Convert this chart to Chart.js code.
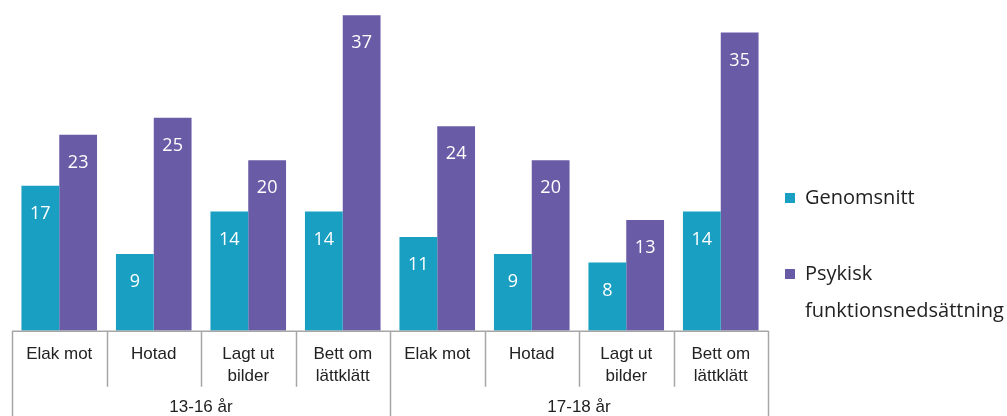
<!DOCTYPE html>
<html>
<head>
<meta charset="utf-8">
<script src="https://cdn.jsdelivr.net/npm/chart.js@4/dist/chart.umd.min.js"></script>
<style>
  body { margin: 0; background: #fff; }
  #wrap { width: 1007px; height: 416px; position: relative; }
</style>
</head>
<body>
<div id="wrap"><canvas id="chart"></canvas></div>
<script>
// Data
const categories = [
  "Elak mot", "Hotad", ["Lagt ut", "bilder"], ["Bett om", "lättklätt"],
  "Elak mot", "Hotad", ["Lagt ut", "bilder"], ["Bett om", "lättklätt"]
];
const groups = ["13-16 år", "17-18 år"];
const genomsnitt = [17, 9, 14, 14, 11, 9, 8, 14];
const psykisk = [23, 25, 20, 37, 24, 20, 13, 35];
const seriesNames = ["Genomsnitt", ["Psykisk", "funktionsnedsättning"]];

const cyan = "#189FC2";
const purple = "#6A5BA7";
const lineGray = "#A6A6A6";

// Linjer som ritar "tabellen" under x-axeln
const tableLines = {
  id: "tableLines",
  afterDraw(chart) {
    const ctx = chart.ctx;
    const x = chart.scales.x;
    const area = chart.chartArea;
    const n = categories.length;
    const half = (x.getPixelForValue(1) - x.getPixelForValue(0)) / 2;
    ctx.save();
    ctx.strokeStyle = lineGray;
    ctx.lineWidth = 1.5;
    ctx.beginPath();
    ctx.moveTo(x.getPixelForValue(0) - half, area.bottom + 0.5);
    ctx.lineTo(x.getPixelForValue(n - 1) + half, area.bottom + 0.5);
    for (let i = 0; i <= n; i++) {
      const bx = i < n ? x.getPixelForValue(i) - half : x.getPixelForValue(n - 1) + half;
      const end = i % 4 === 0 ? chart.height : area.bottom + 56;
      ctx.moveTo(Math.round(bx) + 0.5, area.bottom);
      ctx.lineTo(Math.round(bx) + 0.5, end);
    }
    ctx.stroke();
    ctx.restore();
  }
};

// Värden inne i staplarna
const barValues = {
  id: "barValues",
  afterDatasetsDraw(chart) {
    const ctx = chart.ctx;
    ctx.save();
    ctx.fillStyle = "#ffffff";
    ctx.font = "18px 'Open Sans'";
    ctx.textAlign = "center";
    ctx.textBaseline = "middle";
    chart.data.datasets.forEach((ds, di) => {
      chart.getDatasetMeta(di).data.forEach((bar, i) => {
        ctx.fillText(String(ds.data[i]), bar.x, bar.y + 28);
      });
    });
    ctx.restore();
  }
};

// Egen legend till höger
const sideLegend = {
  id: "sideLegend",
  afterDraw(chart) {
    const ctx = chart.ctx;
    const left = chart.chartArea.right + 17;
    const rows = [198, 274];
    ctx.save();
    ctx.font = "20px 'Open Sans'";
    ctx.textBaseline = "middle";
    chart.data.datasets.forEach((ds, di) => {
      ctx.fillStyle = ds.backgroundColor;
      ctx.fillRect(left, rows[di] - 5, 10, 10);
      ctx.fillStyle = "#222";
      const lines = Array.isArray(seriesNames[di]) ? seriesNames[di] : [seriesNames[di]];
      lines.forEach((t, li) => ctx.fillText(t, left + 20, rows[di] + li * 37));
    });
    ctx.restore();
  }
};

new Chart(document.querySelector("#chart"), {
  type: "bar",
  data: {
    labels: categories,
    datasets: [
      { label: "Genomsnitt", data: genomsnitt, backgroundColor: cyan, xAxisID: "x" },
      { label: "Psykisk funktionsnedsättning", data: psykisk, backgroundColor: purple, xAxisID: "x" }
    ]
  },
  options: {
    responsive: true,
    maintainAspectRatio: false,
    animation: false,
    layout: { padding: { left: 12, right: 239, top: 0, bottom: 0 } },
    datasets: { bar: { categoryPercentage: 0.8, barPercentage: 1 } },
    plugins: {
      legend: { display: false },
      tooltip: { enabled: false }
    },
    scales: {
      x: {
        position: "bottom",
        grid: { display: false },
        border: { display: false },
        ticks: {
          color: "#222",
          padding: 4,
          maxRotation: 0,
          autoSkip: false,
          font: { family: "'Liberation Sans'", size: 17, lineHeight: 1.3 }
        }
      },
      xGroup: {
        type: "category",
        labels: groups,
        position: "bottom",
        grid: { display: false },
        border: { display: false },
        ticks: {
          color: "#222",
          padding: 0,
          font: { family: "'Liberation Sans'", size: 17, lineHeight: 1.0 }
        }
      },
      y: {
        display: false,
        min: 0,
        max: 38.8
      }
    }
  },
  plugins: [tableLines, barValues, sideLegend]
});
</script>
</body>
</html>
